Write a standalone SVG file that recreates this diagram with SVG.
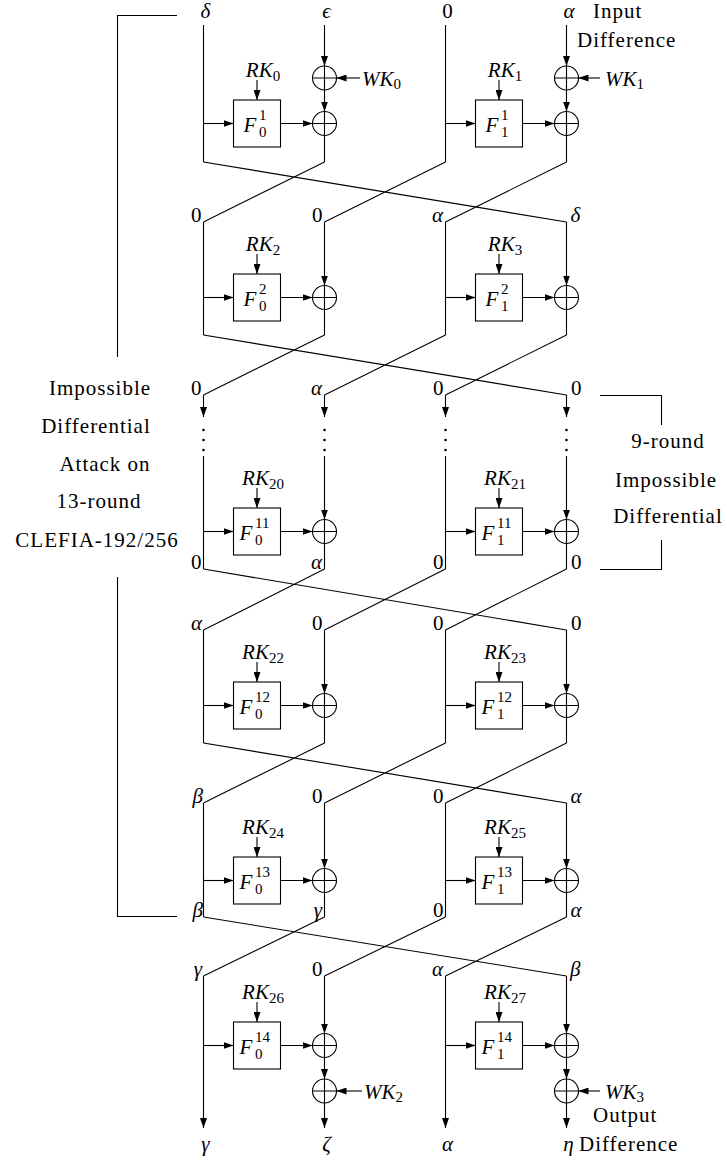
<svg xmlns="http://www.w3.org/2000/svg" width="727" height="1162" viewBox="0 0 727 1162">
<defs>
<marker id="ah" markerUnits="userSpaceOnUse" markerWidth="10" markerHeight="7" refX="10" refY="3.5" orient="auto"><path d="M0,0 L10,3.5 L0,7 Z" fill="#000"/></marker>
<style>
.ln{stroke:#000;stroke-width:1.1;fill:none}
.ar{marker-end:url(#ah)}
.box{stroke:#000;stroke-width:1.1;fill:#fff}
.xor circle,.xor path{stroke:#000;stroke-width:1.1;fill:none}
.t{font-family:'Liberation Serif','Times New Roman',Times,'Nimbus Roman','DejaVu Serif','Noto Serif',FreeSerif,serif;font-size:21px;fill:#000}
.w{letter-spacing:1px}
.m{font-style:italic}
.s{font-size:15px;font-style:normal}
.dot{fill:#000}
</style>
</defs>
<rect width="727" height="1162" fill="#fff"/>

<g id="connectors">
<path class="ln" d="M203.5,25 V162 M445.5,25 V162"/>
<path class="ln ar" d="M324.5,25 V66"/>
<path class="ln ar" d="M566.5,25 V66"/>
<path class="ln ar" d="M324.5,90 V111.5"/>
<path class="ln ar" d="M566.5,90 V111.5"/>
<path class="ln" d="M324.5,135.5 V162 M566.5,135.5 V162"/>
<path class="ln ar" d="M360,78 H336.5"/>
<path class="ln ar" d="M600,78 H578.5"/>
<path class="ln ar" d="M257,80 V100"/>
<path class="ln ar" d="M499,80 V100"/>
<path class="ln ar" d="M203.5,123.5 H233.5"/>
<path class="ln ar" d="M445.5,123.5 H475.5"/>
<path class="ln ar" d="M280.5,123.5 H312.5"/>
<path class="ln ar" d="M522.5,123.5 H554.5"/>
<path class="ln" d="M203.5,162 L566.5,222 M324.5,162 L203.5,222 M445.5,162 L324.5,222 M566.5,162 L445.5,222"/>
<path class="ln" d="M203.5,222 V335 M445.5,222 V335"/>
<path class="ln ar" d="M324.5,222 V285.5"/>
<path class="ln ar" d="M566.5,222 V285.5"/>
<path class="ln" d="M324.5,309.5 V335 M566.5,309.5 V335"/>
<path class="ln ar" d="M257,254 V274"/>
<path class="ln ar" d="M499,254 V274"/>
<path class="ln ar" d="M203.5,297.5 H233.5"/>
<path class="ln ar" d="M445.5,297.5 H475.5"/>
<path class="ln ar" d="M280.5,297.5 H312.5"/>
<path class="ln ar" d="M522.5,297.5 H554.5"/>
<path class="ln" d="M203.5,335 L566.5,395 M324.5,335 L203.5,395 M445.5,335 L324.5,395 M566.5,335 L445.5,395"/>
<path class="ln ar" d="M203.5,395 V417"/>
<path class="ln ar" d="M324.5,395 V417"/>
<path class="ln ar" d="M445.5,395 V417"/>
<path class="ln ar" d="M566.5,395 V417"/>
<path class="ln" d="M203.5,456 V569 M445.5,456 V569"/>
<path class="ln ar" d="M324.5,456 V519.5"/>
<path class="ln ar" d="M566.5,456 V519.5"/>
<path class="ln" d="M324.5,543.5 V569 M566.5,543.5 V569"/>
<path class="ln ar" d="M257,488 V508"/>
<path class="ln ar" d="M499,488 V508"/>
<path class="ln ar" d="M203.5,531.5 H233.5"/>
<path class="ln ar" d="M445.5,531.5 H475.5"/>
<path class="ln ar" d="M280.5,531.5 H312.5"/>
<path class="ln ar" d="M522.5,531.5 H554.5"/>
<path class="ln" d="M203.5,569 L566.5,630 M324.5,569 L203.5,630 M445.5,569 L324.5,630 M566.5,569 L445.5,630"/>
<path class="ln" d="M203.5,630 V743 M445.5,630 V743"/>
<path class="ln ar" d="M324.5,630 V693.5"/>
<path class="ln ar" d="M566.5,630 V693.5"/>
<path class="ln" d="M324.5,717.5 V743 M566.5,717.5 V743"/>
<path class="ln ar" d="M257,662 V682"/>
<path class="ln ar" d="M499,662 V682"/>
<path class="ln ar" d="M203.5,705.5 H233.5"/>
<path class="ln ar" d="M445.5,705.5 H475.5"/>
<path class="ln ar" d="M280.5,705.5 H312.5"/>
<path class="ln ar" d="M522.5,705.5 H554.5"/>
<path class="ln" d="M203.5,743 L566.5,803 M324.5,743 L203.5,803 M445.5,743 L324.5,803 M566.5,743 L445.5,803"/>
<path class="ln" d="M203.5,803 V917 M445.5,803 V917"/>
<path class="ln ar" d="M324.5,803 V868.5"/>
<path class="ln ar" d="M566.5,803 V868.5"/>
<path class="ln" d="M324.5,892.5 V917 M566.5,892.5 V917"/>
<path class="ln ar" d="M257,837 V857"/>
<path class="ln ar" d="M499,837 V857"/>
<path class="ln ar" d="M203.5,880.5 H233.5"/>
<path class="ln ar" d="M445.5,880.5 H475.5"/>
<path class="ln ar" d="M280.5,880.5 H312.5"/>
<path class="ln ar" d="M522.5,880.5 H554.5"/>
<path class="ln" d="M203.5,917 L566.5,976 M324.5,917 L203.5,976 M445.5,917 L324.5,976 M566.5,917 L445.5,976"/>
<path class="ln ar" d="M203.5,976 V1128"/>
<path class="ln ar" d="M445.5,976 V1128"/>
<path class="ln ar" d="M324.5,976 V1033.5"/>
<path class="ln ar" d="M566.5,976 V1033.5"/>
<path class="ln ar" d="M324.5,1057.5 V1079"/>
<path class="ln ar" d="M566.5,1057.5 V1079"/>
<path class="ln ar" d="M324.5,1103 V1128"/>
<path class="ln ar" d="M566.5,1103 V1128"/>
<path class="ln ar" d="M362,1091 H336.5"/>
<path class="ln ar" d="M600,1091 H578.5"/>
<path class="ln ar" d="M257,1002 V1022"/>
<path class="ln ar" d="M499,1002 V1022"/>
<path class="ln ar" d="M203.5,1045.5 H233.5"/>
<path class="ln ar" d="M445.5,1045.5 H475.5"/>
<path class="ln ar" d="M280.5,1045.5 H312.5"/>
<path class="ln ar" d="M522.5,1045.5 H554.5"/>
<path class="ln" d="M177,15.5 H117.5 V357 M117.5,577 V916.5 H177"/>
<path class="ln" d="M600,395.5 H661.5 V425 M661.5,540 V569.5 H600"/>
</g>

<g id="dots">
<circle class="dot" cx="203.5" cy="430" r="1.3"/><circle class="dot" cx="203.5" cy="440" r="1.3"/><circle class="dot" cx="203.5" cy="450" r="1.3"/>
<circle class="dot" cx="324.5" cy="430" r="1.3"/><circle class="dot" cx="324.5" cy="440" r="1.3"/><circle class="dot" cx="324.5" cy="450" r="1.3"/>
<circle class="dot" cx="445.5" cy="430" r="1.3"/><circle class="dot" cx="445.5" cy="440" r="1.3"/><circle class="dot" cx="445.5" cy="450" r="1.3"/>
<circle class="dot" cx="566.5" cy="430" r="1.3"/><circle class="dot" cx="566.5" cy="440" r="1.3"/><circle class="dot" cx="566.5" cy="450" r="1.3"/>
</g>

<g id="xor-wk0" class="xor"><circle cx="324.5" cy="78" r="12"/><path d="M312.5,78 H336.5 M324.5,66 V90"/></g>
<g id="xor-wk1" class="xor"><circle cx="566.5" cy="78" r="12"/><path d="M554.5,78 H578.5 M566.5,66 V90"/></g>
<g id="xor-r1-0" class="xor"><circle cx="324.5" cy="123.5" r="12"/><path d="M312.5,123.5 H336.5 M324.5,111.5 V135.5"/></g>
<g id="xor-r1-1" class="xor"><circle cx="566.5" cy="123.5" r="12"/><path d="M554.5,123.5 H578.5 M566.5,111.5 V135.5"/></g>
<g id="xor-r2-0" class="xor"><circle cx="324.5" cy="297.5" r="12"/><path d="M312.5,297.5 H336.5 M324.5,285.5 V309.5"/></g>
<g id="xor-r2-1" class="xor"><circle cx="566.5" cy="297.5" r="12"/><path d="M554.5,297.5 H578.5 M566.5,285.5 V309.5"/></g>
<g id="xor-r11-0" class="xor"><circle cx="324.5" cy="531.5" r="12"/><path d="M312.5,531.5 H336.5 M324.5,519.5 V543.5"/></g>
<g id="xor-r11-1" class="xor"><circle cx="566.5" cy="531.5" r="12"/><path d="M554.5,531.5 H578.5 M566.5,519.5 V543.5"/></g>
<g id="xor-r12-0" class="xor"><circle cx="324.5" cy="705.5" r="12"/><path d="M312.5,705.5 H336.5 M324.5,693.5 V717.5"/></g>
<g id="xor-r12-1" class="xor"><circle cx="566.5" cy="705.5" r="12"/><path d="M554.5,705.5 H578.5 M566.5,693.5 V717.5"/></g>
<g id="xor-r13-0" class="xor"><circle cx="324.5" cy="880.5" r="12"/><path d="M312.5,880.5 H336.5 M324.5,868.5 V892.5"/></g>
<g id="xor-r13-1" class="xor"><circle cx="566.5" cy="880.5" r="12"/><path d="M554.5,880.5 H578.5 M566.5,868.5 V892.5"/></g>
<g id="xor-r14-0" class="xor"><circle cx="324.5" cy="1045.5" r="12"/><path d="M312.5,1045.5 H336.5 M324.5,1033.5 V1057.5"/></g>
<g id="xor-r14-1" class="xor"><circle cx="566.5" cy="1045.5" r="12"/><path d="M554.5,1045.5 H578.5 M566.5,1033.5 V1057.5"/></g>
<g id="xor-wk2" class="xor"><circle cx="324.5" cy="1091" r="12"/><path d="M312.5,1091 H336.5 M324.5,1079 V1103"/></g>
<g id="xor-wk3" class="xor"><circle cx="566.5" cy="1091" r="12"/><path d="M554.5,1091 H578.5 M566.5,1079 V1103"/></g>

<g id="f-r1-0"><rect class="box" x="233.5" y="100" width="47" height="47"/><text class="t"><tspan class="m" x="243.5" y="131.5">F</tspan><tspan class="s" x="259" y="119.5">1</tspan><tspan class="s" x="259" y="136.5">0</tspan></text></g>
<g id="f-r1-1"><rect class="box" x="475.5" y="100" width="47" height="47"/><text class="t"><tspan class="m" x="485.5" y="131.5">F</tspan><tspan class="s" x="501" y="119.5">1</tspan><tspan class="s" x="501" y="136.5">1</tspan></text></g>
<g id="f-r2-0"><rect class="box" x="233.5" y="274" width="47" height="47"/><text class="t"><tspan class="m" x="243.5" y="305.5">F</tspan><tspan class="s" x="259" y="293.5">2</tspan><tspan class="s" x="259" y="310.5">0</tspan></text></g>
<g id="f-r2-1"><rect class="box" x="475.5" y="274" width="47" height="47"/><text class="t"><tspan class="m" x="485.5" y="305.5">F</tspan><tspan class="s" x="501" y="293.5">2</tspan><tspan class="s" x="501" y="310.5">1</tspan></text></g>
<g id="f-r11-0"><rect class="box" x="233.5" y="508" width="47" height="47"/><text class="t"><tspan class="m" x="239.5" y="539.5">F</tspan><tspan class="s" x="255" y="527.5">11</tspan><tspan class="s" x="255" y="544.5">0</tspan></text></g>
<g id="f-r11-1"><rect class="box" x="475.5" y="508" width="47" height="47"/><text class="t"><tspan class="m" x="481.5" y="539.5">F</tspan><tspan class="s" x="497" y="527.5">11</tspan><tspan class="s" x="497" y="544.5">1</tspan></text></g>
<g id="f-r12-0"><rect class="box" x="233.5" y="682" width="47" height="47"/><text class="t"><tspan class="m" x="239.5" y="713.5">F</tspan><tspan class="s" x="255" y="701.5">12</tspan><tspan class="s" x="255" y="718.5">0</tspan></text></g>
<g id="f-r12-1"><rect class="box" x="475.5" y="682" width="47" height="47"/><text class="t"><tspan class="m" x="481.5" y="713.5">F</tspan><tspan class="s" x="497" y="701.5">12</tspan><tspan class="s" x="497" y="718.5">1</tspan></text></g>
<g id="f-r13-0"><rect class="box" x="233.5" y="857" width="47" height="47"/><text class="t"><tspan class="m" x="239.5" y="888.5">F</tspan><tspan class="s" x="255" y="876.5">13</tspan><tspan class="s" x="255" y="893.5">0</tspan></text></g>
<g id="f-r13-1"><rect class="box" x="475.5" y="857" width="47" height="47"/><text class="t"><tspan class="m" x="481.5" y="888.5">F</tspan><tspan class="s" x="497" y="876.5">13</tspan><tspan class="s" x="497" y="893.5">1</tspan></text></g>
<g id="f-r14-0"><rect class="box" x="233.5" y="1022" width="47" height="47"/><text class="t"><tspan class="m" x="239.5" y="1053.5">F</tspan><tspan class="s" x="255" y="1041.5">14</tspan><tspan class="s" x="255" y="1058.5">0</tspan></text></g>
<g id="f-r14-1"><rect class="box" x="475.5" y="1022" width="47" height="47"/><text class="t"><tspan class="m" x="481.5" y="1053.5">F</tspan><tspan class="s" x="497" y="1041.5">14</tspan><tspan class="s" x="497" y="1058.5">1</tspan></text></g>

<g id="keys" class="t m" text-anchor="middle">
<text x="263" y="77">RK<tspan class="s" dy="4">0</tspan></text>
<text x="505" y="77">RK<tspan class="s" dy="4">1</tspan></text>
<text x="263" y="251">RK<tspan class="s" dy="4">2</tspan></text>
<text x="505" y="251">RK<tspan class="s" dy="4">3</tspan></text>
<text x="263" y="485">RK<tspan class="s" dy="4">20</tspan></text>
<text x="505" y="485">RK<tspan class="s" dy="4">21</tspan></text>
<text x="263" y="659">RK<tspan class="s" dy="4">22</tspan></text>
<text x="505" y="659">RK<tspan class="s" dy="4">23</tspan></text>
<text x="263" y="834">RK<tspan class="s" dy="4">24</tspan></text>
<text x="505" y="834">RK<tspan class="s" dy="4">25</tspan></text>
<text x="263" y="999">RK<tspan class="s" dy="4">26</tspan></text>
<text x="505" y="999">RK<tspan class="s" dy="4">27</tspan></text>
</g>
<g id="whitening" class="t m">
<text x="362" y="86">WK<tspan class="s" dy="3">0</tspan></text>
<text x="605" y="86">WK<tspan class="s" dy="3">1</tspan></text>
<text x="364" y="1099">WK<tspan class="s" dy="3">2</tspan></text>
<text x="605" y="1099">WK<tspan class="s" dy="3">3</tspan></text>
</g>

<g id="input" class="t" text-anchor="middle">
<text class="m" x="205.5" y="18">δ</text>
<text class="m" x="326.5" y="18">ϵ</text>
<text x="447.5" y="18">0</text>
<text class="m" x="569" y="18">α</text>
</g>
<g id="input-label" class="t w">
<text x="593" y="18">Input</text>
<text x="577" y="47">Difference</text>
</g>
<g id="output" class="t" text-anchor="middle">
<text class="m" x="205.5" y="1151">γ</text>
<text class="m" x="326.5" y="1151">ζ</text>
<text class="m" x="447.5" y="1151">α</text>
<text class="m" x="568.5" y="1151">η</text>
</g>
<g id="output-label" class="t w">
<text x="593" y="1122">Output</text>
<text x="579" y="1151">Difference</text>
</g>

<g id="diff-left" class="t" text-anchor="end">
<text x="201.5" y="222">0</text><text x="322.5" y="222">0</text><text class="m" x="443" y="222">α</text>
<text x="201.5" y="395">0</text><text class="m" x="322" y="395">α</text><text x="443.5" y="395">0</text>
<text x="201.5" y="569">0</text><text class="m" x="322" y="569">α</text><text x="443.5" y="569">0</text>
<text class="m" x="202" y="630">α</text><text x="322.5" y="630">0</text><text x="443.5" y="630">0</text>
<text class="m" x="203" y="803">β</text><text x="322.5" y="803">0</text><text x="443.5" y="803">0</text>
<text class="m" x="203" y="917">β</text><text class="m" x="322" y="917">γ</text><text x="443.5" y="917">0</text>
<text class="m" x="202" y="976">γ</text><text x="322.5" y="976">0</text><text class="m" x="443" y="976">α</text>
</g>
<g id="diff-right" class="t">
<text class="m" x="570.5" y="222">δ</text>
<text x="571" y="395">0</text>
<text x="571" y="569">0</text>
<text x="571" y="630">0</text>
<text class="m" x="570.5" y="803">α</text>
<text class="m" x="570.5" y="917">α</text>
<text class="m" x="570" y="976">β</text>
</g>

<g id="note-attack" class="t w" text-anchor="middle">
<text x="100" y="395">Impossible</text>
<text x="96" y="433">Differential</text>
<text x="105" y="471">Attack on</text>
<text x="99" y="508">13-round</text>
<text x="97" y="547">CLEFIA-192/256</text>
</g>
<g id="note-9round" class="t w" text-anchor="middle">
<text x="668" y="448">9-round</text>
<text x="666" y="487">Impossible</text>
<text x="668" y="523">Differential</text>
</g>
</svg>
